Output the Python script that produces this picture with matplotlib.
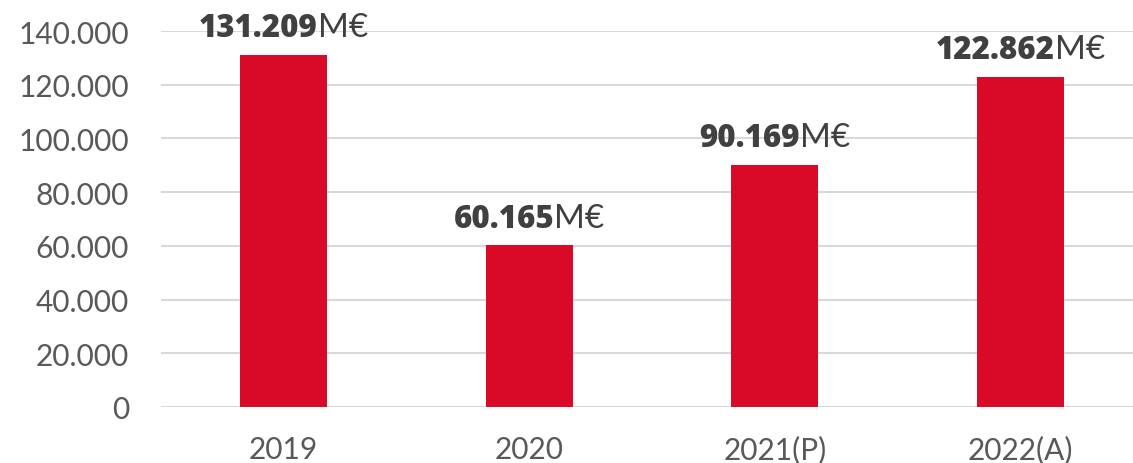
import matplotlib
matplotlib.use('Agg')
import matplotlib.pyplot as plt
from matplotlib.ticker import FuncFormatter

# datos
years = ['2019', '2020', '2021(P)', '2022(A)']
values = [131209, 60165, 90169, 122862]
labels = ['131.209', '60.165', '90.169', '122.862']
yticks = [0, 20000, 40000, 60000, 80000, 100000, 120000, 140000]

plt.rcParams['font.family'] = ['Lato', 'DejaVu Sans']

fig = plt.figure(figsize=(11.33, 4.64), dpi=100)
ax = fig.add_axes([161 / 1133, 56 / 464, 982 / 1133, 376 / 464])

x = list(range(len(years)))
ax.bar(x, values, width=0.354, color='#D90A27', zorder=3)

ax.set_xlim(-0.5, 3.5)
ax.set_ylim(0, 140000)
ax.set_yticks(yticks)
ax.yaxis.set_major_formatter(FuncFormatter(lambda v, p: f'{int(v):,}'.replace(',', '.')))
ax.set_xticks(x)
ax.set_xticklabels(years)
ax.grid(axis='y', color='#D9D9D9', linewidth=1.5, zorder=0)
for s in ax.spines.values():
    s.set_visible(False)
ax.tick_params(axis='both', length=0, labelsize=21.5, labelcolor='#595959')
ax.tick_params(axis='y', pad=23)
ax.tick_params(axis='x', pad=20)

# etiquetas: numero en negrita + "M€"
off = 13.5
fig.canvas.draw()
r = fig.canvas.get_renderer()
for i, (v, lab) in enumerate(zip(values, labels)):
    t1 = ax.annotate(lab, (i, v), xytext=(0, off), textcoords='offset points',
                     ha='right', va='baseline', fontsize=22.5, fontweight='heavy',
                     family=['Open Sans', 'DejaVu Sans'],
                     color='#404040', annotation_clip=False)
    t2 = ax.annotate('M€', (i, v), xytext=(0, off), textcoords='offset points',
                     ha='left', va='baseline', fontsize=24,
                     color='#404040', annotation_clip=False)
    w1 = t1.get_window_extent(r).width
    w2 = t2.get_window_extent(r).width
    shift = (w1 - w2) / 2 * 72 / fig.dpi
    t1.set_position((shift, off))
    t2.set_position((shift, off))

fig.savefig('out.png', dpi=100)
